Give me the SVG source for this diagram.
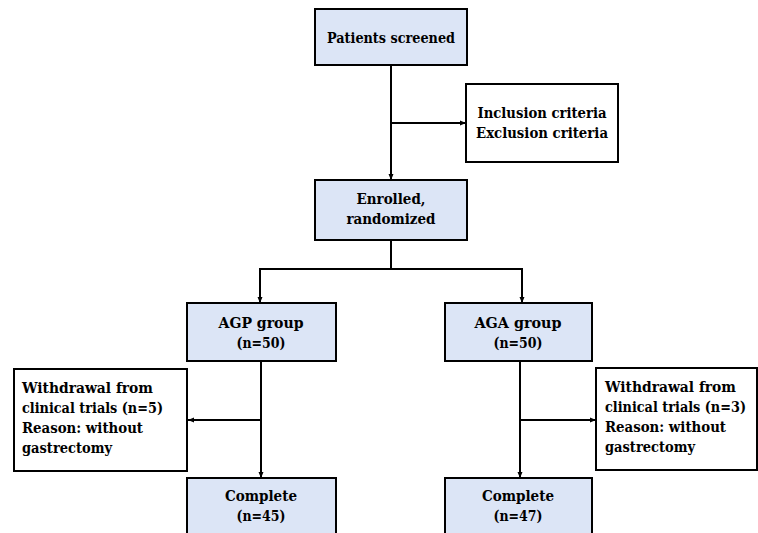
<svg xmlns="http://www.w3.org/2000/svg" width="758" height="533" viewBox="0 0 758 533">
<defs>
<style>
.b{fill:#dce5f6;stroke:#000;stroke-width:2}
.w{fill:#fff;stroke:#000;stroke-width:2}
text{font-family:'DejaVu Serif',serif;font-weight:700;font-size:15.5px;fill:#000}
.c{text-anchor:middle}
.ln{fill:none;stroke:#000;stroke-width:2}
</style>
<marker id="ah" markerWidth="8" markerHeight="8" refX="6" refY="4" orient="auto" markerUnits="userSpaceOnUse">
<path d="M0,1.5 L6,4 L0,6.5 Z" fill="#000"/>
</marker>
</defs>
<rect width="758" height="533" fill="#fff"/>
<g id="connectors">
<path class="ln" d="M391,65 V180" marker-end="url(#ah)"/>
<path class="ln" d="M391,123 H466" marker-end="url(#ah)"/>
<path class="ln" d="M391,240 V269 M260,269 H522"/>
<path class="ln" d="M260,268 V303" marker-end="url(#ah)"/>
<path class="ln" d="M522,268 V303" marker-end="url(#ah)"/>
<path class="ln" d="M261,361 V478" marker-end="url(#ah)"/>
<path class="ln" d="M261,420 H188" marker-end="url(#ah)"/>
<path class="ln" d="M520,361 V478" marker-end="url(#ah)"/>
<path class="ln" d="M520,420 H596" marker-end="url(#ah)"/>
</g>
<g id="screened">
<rect class="b" x="315" y="9" width="152" height="56"/>
<text class="c" x="391" y="43" textLength="128" lengthAdjust="spacingAndGlyphs">Patients screened</text>
</g>
<g id="criteria">
<rect class="w" x="466" y="84" width="152" height="78"/>
<text class="c" x="542" y="118" textLength="129" lengthAdjust="spacingAndGlyphs">Inclusion criteria</text>
<text class="c" x="542" y="138" textLength="132" lengthAdjust="spacingAndGlyphs">Exclusion criteria</text>
</g>
<g id="enrolled">
<rect class="b" x="315" y="180" width="152" height="60"/>
<text class="c" x="391" y="204" textLength="69" lengthAdjust="spacingAndGlyphs">Enrolled,</text>
<text class="c" x="391" y="224" textLength="89" lengthAdjust="spacingAndGlyphs">randomized</text>
</g>
<g id="agp">
<rect class="b" x="187" y="303" width="149" height="58"/>
<text class="c" x="261" y="328" textLength="85" lengthAdjust="spacingAndGlyphs">AGP group</text>
<text class="c" x="261" y="348" textLength="49" lengthAdjust="spacingAndGlyphs">(n=50)</text>
</g>
<g id="aga">
<rect class="b" x="445" y="303" width="147" height="58"/>
<text class="c" x="518" y="328" textLength="87" lengthAdjust="spacingAndGlyphs">AGA group</text>
<text class="c" x="518" y="348" textLength="49" lengthAdjust="spacingAndGlyphs">(n=50)</text>
</g>
<g id="withdrawal-agp">
<rect class="w" x="14" y="369" width="173" height="102"/>
<text x="22" y="393" textLength="131" lengthAdjust="spacingAndGlyphs">Withdrawal from</text>
<text x="22" y="413" textLength="141" lengthAdjust="spacingAndGlyphs">clinical trials (n=5)</text>
<text x="22" y="433" textLength="121" lengthAdjust="spacingAndGlyphs">Reason: without</text>
<text x="22" y="453" textLength="90" lengthAdjust="spacingAndGlyphs">gastrectomy</text>
</g>
<g id="withdrawal-aga">
<rect class="w" x="596" y="368" width="161" height="102"/>
<text x="605" y="392" textLength="131" lengthAdjust="spacingAndGlyphs">Withdrawal from</text>
<text x="605" y="412" textLength="141" lengthAdjust="spacingAndGlyphs">clinical trials (n=3)</text>
<text x="605" y="432" textLength="121" lengthAdjust="spacingAndGlyphs">Reason: without</text>
<text x="605" y="452" textLength="90" lengthAdjust="spacingAndGlyphs">gastrectomy</text>
</g>
<g id="complete-agp">
<rect class="b" x="187" y="478" width="149" height="60"/>
<text class="c" x="261" y="501" textLength="72" lengthAdjust="spacingAndGlyphs">Complete</text>
<text class="c" x="261" y="521" textLength="49" lengthAdjust="spacingAndGlyphs">(n=45)</text>
</g>
<g id="complete-aga">
<rect class="b" x="445" y="478" width="147" height="60"/>
<text class="c" x="518" y="501" textLength="72" lengthAdjust="spacingAndGlyphs">Complete</text>
<text class="c" x="518" y="521" textLength="49" lengthAdjust="spacingAndGlyphs">(n=47)</text>
</g>
</svg>
